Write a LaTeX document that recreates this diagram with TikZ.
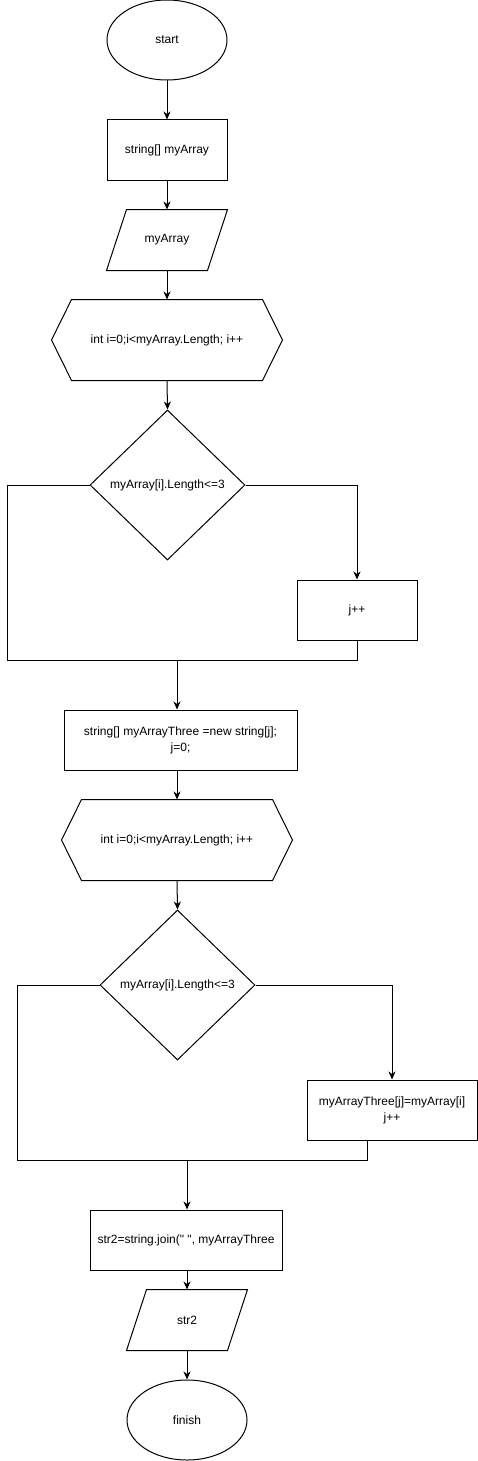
\documentclass[tikz,border=0pt]{standalone}
\usepackage{fontspec}
\setmainfont{Liberation Sans}[Ligatures=TeXOff]
\usetikzlibrary{shapes.geometric,arrows.meta,calc}
\tikzset{
  base/.style={line width=1pt, font=\fontsize{12}{16}\selectfont, align=center, inner sep=0pt},
  term/.style={base, draw, ellipse, minimum width=120pt, minimum height=80pt},
  procbox/.style={base, draw, rectangle, minimum width=#1, minimum height=60pt},
  iobox/.style={base, rectangle, minimum width=120pt, minimum height=60pt},
  loopbox/.style={base, rectangle, minimum width=230pt, minimum height=80pt},
  decide/.style={base, draw, diamond, minimum width=155pt, minimum height=150pt},
  line/.style={line width=1pt},
  arr/.style={line width=1pt, -{Stealth[length=8pt,width=7pt,inset=2.5pt]}},
}
\begin{document}
\begin{tikzpicture}[x=1pt,y=-1pt]
\useasboundingbox[fill=white] (0,0) rectangle (478,1461);

\node[term] (start) at (167,40) {start};
\node[procbox=120pt] (r1) at (167,150) {string[] myArray};
\node[iobox] (io1) at (167,240) {myArray};
\draw[line] ($(io1.north west)+(20,0)$) -- (io1.north east) -- ($(io1.south east)+(-20,0)$) -- (io1.south west) -- cycle;
\node[loopbox] (loop1) at (167,340) {int i=0;i<myArray.Length; i++};
\draw[line] (loop1.west) -- ($(loop1.north west)+(20,0)$) -- ($(loop1.north east)+(-20,0)$) -- (loop1.east) -- ($(loop1.south east)+(-20,0)$) -- ($(loop1.south west)+(20,0)$) -- cycle;
\node[decide] (d1) at (167.5,485) {myArray[i].Length<=3};
\node[procbox=120pt] (j1) at (357,610) {j++};
\node[procbox=233pt] (r2) at (180.5,740) {string[] myArrayThree =new string[j];\\j=0;};
\node[loopbox] (loop2) at (177,840) {int i=0;i<myArray.Length; i++};
\draw[line] (loop2.west) -- ($(loop2.north west)+(20,0)$) -- ($(loop2.north east)+(-20,0)$) -- (loop2.east) -- ($(loop2.south east)+(-20,0)$) -- ($(loop2.south west)+(20,0)$) -- cycle;
\node[decide] (d2) at (177.5,985) {myArray[i].Length<=3};
\node[procbox=170pt] (a2) at (392,1110) {myArrayThree[j]=myArray[i]\\j++};
\node[procbox=192pt] (r3) at (186,1240) {str2=string.join(" ", myArrayThree};
\node[iobox] (io2) at (187,1320) {str2};
\draw[line] ($(io2.north west)+(20,0)$) -- (io2.north east) -- ($(io2.south east)+(-20,0)$) -- (io2.south west) -- cycle;
\node[term] (fin) at (187,1420) {finish};

\coordinate (m1l) at (7,660);
\coordinate (m1r) at (357,660);
\coordinate (m1c) at (177,660);
\coordinate (m2l) at (17,1160);
\coordinate (m2r) at (367,1160);
\coordinate (m2c) at (187,1160);
\coordinate (a2s) at (367,1140);

\draw[arr] (start) -- (r1);
\draw[arr] (r1) -- (io1);
\draw[arr] (io1) -- (loop1.north);
\draw[arr] (loop1.south) -- (d1.north);
\draw[arr] (d1.east) -| (j1.north);
\draw[line] (d1.west) -| (m1l) -- (m1r) -- (j1.south);
\draw[arr] (m1c) -- (m1c |- r2.north);
\draw[arr] (r2.south -| loop2.north) -- (loop2.north);
\draw[arr] (loop2.south) -- (d2.north);
\draw[arr] (d2.east) -| (a2.north);
\draw[line] (d2.west) -| (m2l) -- (m2r) -- (a2s);
\draw[arr] (m2c) -- (m2c |- r3.north);
\draw[arr] (r3.south -| io2.north) -- (io2.north);
\draw[arr] (io2.south) -- (fin.north);
\end{tikzpicture}
\end{document}
